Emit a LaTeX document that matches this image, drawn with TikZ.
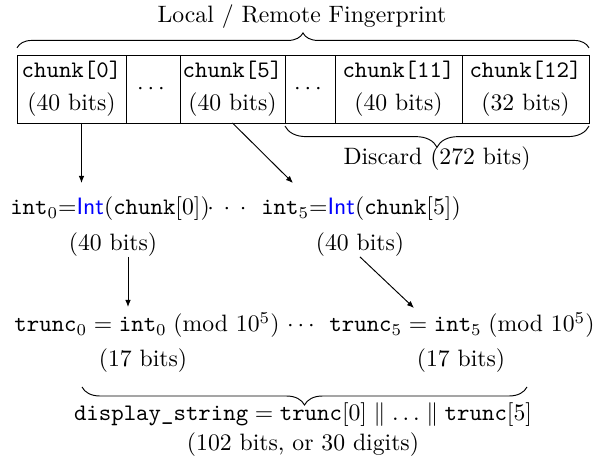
\documentclass[tikz,border=0pt]{standalone}
\usepackage{amsmath}
\usetikzlibrary{decorations.pathreplacing,arrows.meta}
\begin{document}
\begin{tikzpicture}[x=0.4219pt,y=-0.4219pt,
  cell/.style={draw, line width=0.4pt, inner sep=0pt, outer sep=0pt, minimum height=28.69pt, align=center},
  lbl/.style={anchor=base, inner sep=0pt, outer sep=0pt},
  arr/.style={-{Latex[length=3pt,width=2.4pt]}, line width=0.4pt},
  brc/.style={decorate, line width=0.4pt}]
\useasboundingbox (0,0) rectangle (598,461);

% fingerprint cells
\node[cell, minimum width=45.99pt] (c0) at (71.5,89) {\texttt{chunk[0]}\\[2.1pt](40 bits)};
\node[cell, minimum width=22.78pt] (dA) at (153,89) {$\cdots$};
\node[cell, minimum width=44.30pt] (c5) at (232.5,89) {\texttt{chunk[5]}\\[2.1pt](40 bits)};
\node[cell, minimum width=21.10pt] (dB) at (310,89) {$\cdots$};
\node[cell, minimum width=53.58pt] (c11) at (398.5,89) {\texttt{chunk[11]}\\[2.1pt](40 bits)};
\node[cell, minimum width=53.58pt] (c12) at (525.5,89) {\texttt{chunk[12]}\\[2.1pt](32 bits)};

% top brace and title
\draw[brc, decoration={brace, amplitude=6.3pt, raise=3pt}] (c0.north west) -- (c12.north east);
\node[lbl] (title) at (302,23) {Local / Remote Fingerprint};

% discard brace
\draw[brc, decoration={brace, amplitude=8.9pt, raise=1.3pt}] (c12.south east) -- (dB.south west);
\node[lbl] (discard) at (437,165) {Discard (272 bits)};

% int line
\node[lbl] (int0) at (110,215) {\texttt{int}$_0$=\textcolor{blue}{\textsf{Int}}(\texttt{chunk}[0])};
\node[lbl] (dotsI) at (227,215) {${\cdot}\hspace{4.1pt}{\cdot}\hspace{4.1pt}{\cdot}$};
\node[lbl] (int5) at (361,215) {\texttt{int}$_5$=\textcolor{blue}{\textsf{Int}}(\texttt{chunk}[5])};
\node[lbl] (bits0) at (113,251) {(40 bits)};
\node[lbl] (bits5) at (360,251) {(40 bits)};

% trunc line
\node[lbl] (trunc0) at (147,332) {$\texttt{trunc}_0 = \texttt{int}_0\;(\mathrm{mod}\ 10^5)$};
\node[lbl] (dotsT) at (303,332) {$\cdots$};
\node[lbl] (trunc5) at (462,332) {$\texttt{trunc}_5 = \texttt{int}_5\;(\mathrm{mod}\ 10^5)$};
\node[lbl] (tb0) at (143,367) {(17 bits)};
\node[lbl] (tb5) at (461,367) {(17 bits)};

% display brace and text
\coordinate (dl) at (82,387);
\coordinate (dr) at (527,387);
\draw[brc, decoration={brace, amplitude=7.6pt}] (dr) -- (dl);
\node[lbl] (disp) at (303,421) {$\texttt{display\_string} = \texttt{trunc}[0] \parallel \ldots \parallel \texttt{trunc}[5]$};
\node[lbl] (digits) at (303,451) {(102 bits, or 30 digits)};

% arrows
\coordinate (a1e) at (81.5,183);
\draw[arr] (a1e |- c0.south) -- (a1e);
\coordinate (a2e) at (293,183);
\draw[arr] (c5.south) -- (a2e);
\coordinate (a3e) at (128,307);
\draw[arr] (a3e |- bits0.south) -- (a3e);
\coordinate (a4e) at (414,308);
\draw[arr] (bits5.south) -- (a4e);
\end{tikzpicture}
\end{document}
